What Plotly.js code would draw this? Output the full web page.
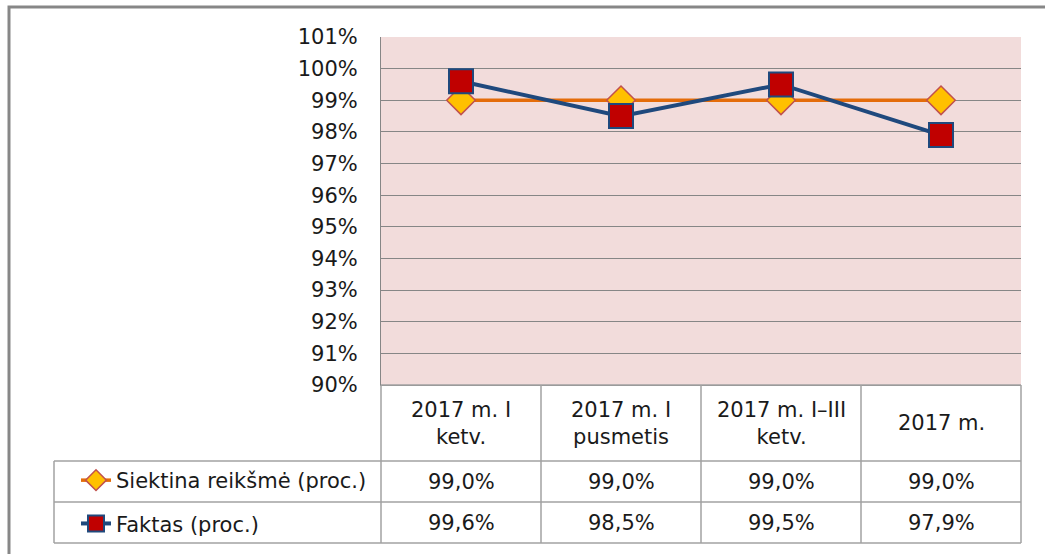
<!DOCTYPE html>
<html>
<head>
<meta charset="utf-8">
<script src="https://cdn.plot.ly/plotly-3.0.1.min.js"></script>
<style>html,body{margin:0;padding:0;background:#fff;}</style>
</head>
<body>
<div id="chart" style="width:1045px;height:554px;"></div>
<script>
"use strict";

// DATA
const categories = ["2017 m. I<br>ketv.", "2017 m. I<br>pusmetis", "2017 m. I–III<br>ketv.", "2017 m."];
const seriesNames = ["Siektina reikšmė (proc.)", "Faktas (proc.)"];
const target = [99.0, 99.0, 99.0, 99.0];
const actual = [99.6, 98.5, 99.5, 97.9];
const yRange = [90, 101];

const FONT = "DejaVu Sans, Arial, sans-serif";
const FSIZE = 21;
const TEXT = "#1a1a1a";
const TABLE_LINE = {color: "#a2a2a2", width: 1.5};

// plot area is 381..1021 x 37..385 px, helpers to place the data table in paper units
const W = 1045, H = 554;
const M = {l: 381, r: W - 1021, t: 37, b: H - 385, autoexpand: false};
function px(x){ return (x - M.l) / (W - M.l - M.r); }
function py(y){ return (H - M.b - y) / (H - M.t - M.b); }

function pct(v){ return v.toFixed(1).replace('.', ',') + '%'; }

const xs = categories.map((c, i) => i);

const traces = [
	{
		name: seriesNames[0],
		x: xs, y: target,
		type: 'scatter', mode: 'lines+markers',
		legendgroup: 'a',
		line: {color: '#e46c0a', width: 3.5},
		marker: {symbol: 'diamond', size: 22, color: '#ffc000', line: {color: '#c0504d', width: 1.5}},
		cliponaxis: false
	},
	{
		name: seriesNames[1],
		x: xs, y: actual,
		type: 'scatter', mode: 'lines+markers',
		legendgroup: 'b',
		line: {color: '#1f497d', width: 4},
		marker: {symbol: 'square', size: 24, color: '#c00000', line: {color: '#1f497d', width: 2}},
		cliponaxis: false
	}
];

//TABLE LINES
const shapes = [];
function hline(x0, x1, y){
	shapes.push({type: 'line', xref: 'paper', yref: 'paper', x0: px(x0), x1: px(x1), y0: py(y), y1: py(y), line: TABLE_LINE});
}
function vline(x, y0, y1){
	shapes.push({type: 'line', xref: 'paper', yref: 'paper', x0: px(x), x1: px(x), y0: py(y0), y1: py(y1), line: TABLE_LINE});
}
const rowY = [385, 461, 502, 543];
hline(381, 1021, rowY[0]);
for(let i = 1; i < rowY.length; i++) hline(54, 1021, rowY[i]);
vline(54, rowY[1], rowY[3]);
[381, 541, 701, 861, 1021].forEach(x => vline(x, rowY[0], rowY[3]));

// outer chart frame
shapes.push({type: 'rect', xref: 'paper', yref: 'paper', x0: px(9), x1: px(1080), y0: py(7), y1: py(600),
	line: {color: '#878787', width: 3}, layer: 'below'});

//TABLE TEXT
const annotations = [];
const rowCenters = [(rowY[0] + rowY[1]) / 2, (rowY[1] + rowY[2]) / 2, (rowY[2] + rowY[3]) / 2];
function cell(i, y, text){
	annotations.push({xref: 'x', yref: 'paper', x: i, y: py(y), text: text, showarrow: false,
		xanchor: 'center', yanchor: 'middle', font: {family: FONT, size: FSIZE, color: TEXT}});
}
categories.forEach((c, i) => cell(i, rowCenters[0], c));
target.forEach((v, i) => cell(i, rowCenters[1], pct(v)));
actual.forEach((v, i) => cell(i, rowCenters[2], pct(v)));

const layout = {
	width: W, height: H,
	margin: M,
	paper_bgcolor: '#ffffff',
	plot_bgcolor: '#f2dcdb',
	font: {family: FONT, size: FSIZE, color: TEXT},
	showlegend: true,
	legend: {
		x: px(76), y: py(rowY[1] - 1), xanchor: 'left', yanchor: 'top',
		bgcolor: 'rgba(0,0,0,0)', borderwidth: 0,
		tracegroupgap: 13,
		font: {family: FONT, size: FSIZE, color: TEXT}
	},
	xaxis: {
		range: [-0.5, categories.length - 0.5],
		showgrid: false, zeroline: false,
		showticklabels: false, ticks: '',
		showline: true, linecolor: '#868686', linewidth: 1,
		fixedrange: true
	},
	yaxis: {
		range: yRange, dtick: 1, tick0: 90,
		ticksuffix: '%',
		showgrid: true, gridcolor: '#868686', gridwidth: 1,
		zeroline: false,
		showline: true, linecolor: '#868686', linewidth: 1,
		ticks: 'outside', ticklen: 18, tickcolor: 'rgba(0,0,0,0)',
		tickfont: {family: FONT, size: FSIZE, color: TEXT},
		fixedrange: true
	},
	shapes: shapes,
	annotations: annotations
};

Plotly.newPlot('chart', traces, layout, {displayModeBar: false, staticPlot: true});
</script>
</body>
</html>
